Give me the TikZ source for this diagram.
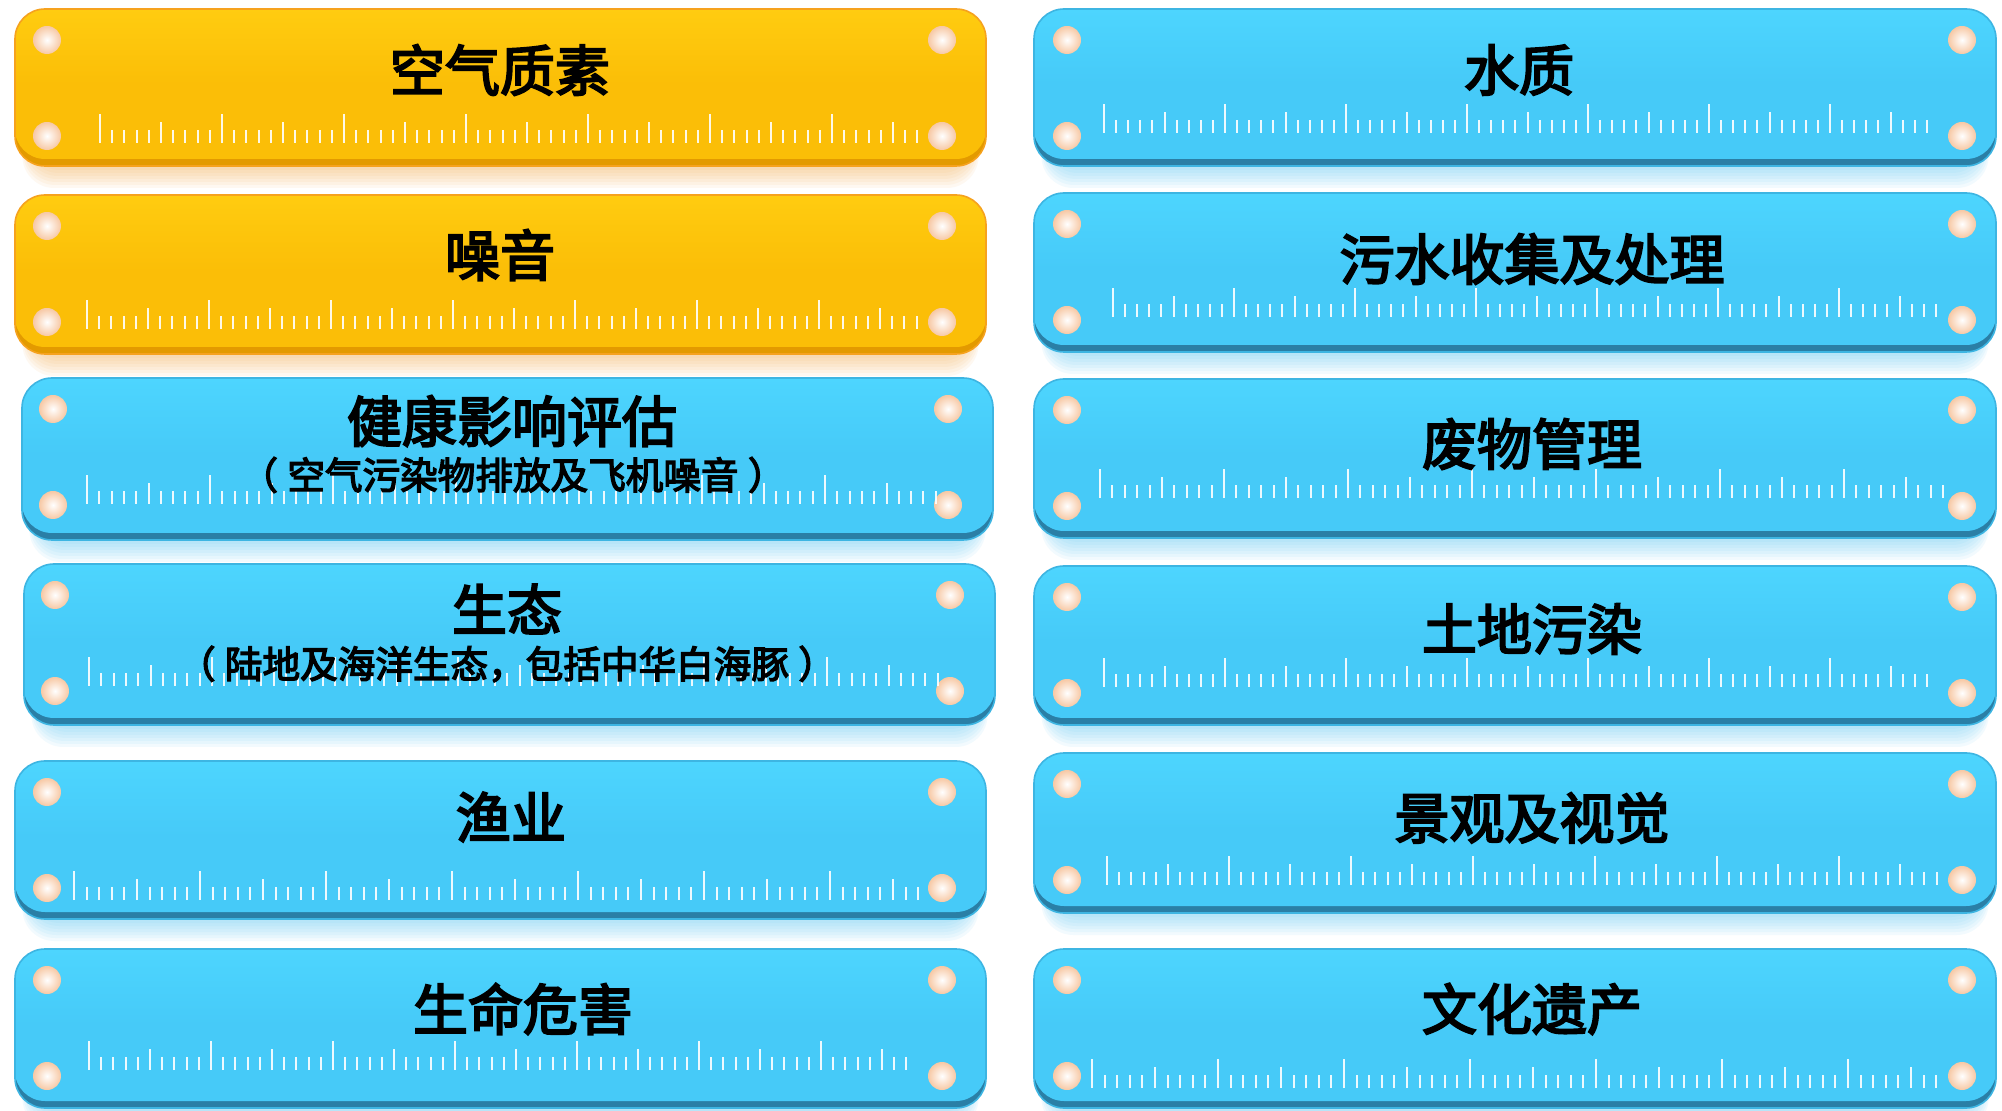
\documentclass[tikz,border=0pt]{standalone}
\usepackage{fontspec}
\newfontfamily\cjk{Noto Sans CJK SC}[FakeBold=3.6]
\definecolor{Ymain}{HTML}{FBBE07}
\definecolor{Ytop}{HTML}{FFCC10}
\definecolor{Ydark}{HTML}{E39A00}
\definecolor{Yglow}{HTML}{F8B868}
\definecolor{Yedge}{HTML}{F6A21E}
\definecolor{Bmain}{HTML}{46CAF8}
\definecolor{Btop}{HTML}{4DD5FE}
\definecolor{Bdark}{HTML}{2A7FA6}
\definecolor{Bglow}{HTML}{6FD0F4}
\definecolor{Bedge}{HTML}{3DB5E2}
\definecolor{peach}{HTML}{F7C8A4}
\tikzset{
  ttl/.style={font=\cjk\fontsize{27.5}{30}\selectfont, text=black, inner sep=0pt},
  subt/.style={font=\cjk\fontsize{18.8}{22}\selectfont, text=black, inner sep=0pt},
  tickline/.style={draw=white, line width=1pt, opacity=0.9},
  holeshape/.style={inner color=white, outer color=peach},
}
% panel: x0,y0,x1,y1,colour prefix
\newcommand\panel[5]{%
  \foreach \k in {22,19,16,13,10,7,4}{%
    \fill[#5glow, opacity=0.09, rounded corners=16pt] (#1+14-\k*0.3, #2+20) rectangle (#3-14+\k*0.3, #4+\k);
  }%
  \fill[#5dark, rounded corners=15pt] (#1,#2) rectangle (#3,#4);
  \shade[top color=#5top, bottom color=#5main, middle color=#5main, rounded corners=15pt] (#1,#2) rectangle (#3,#4-7);
  \draw[#5edge, line width=0.8pt, rounded corners=15pt] (#1,#2) rectangle (#3,#4);
}
% holes: xl, xr, ytop(box)
\newcommand\holes[3]{%
  \foreach \hx in {#1,#2}{%
    \foreach \hy in {#3+31,#3+127}{%
      \shade[holeshape] (\hx,\hy) circle [radius=7pt];
    }%
  }%
}
% ruler: x0, ybase, spacing, n
\newcommand\ruler[4]{%
  \foreach \i in {0,...,#4}{%
    \pgfmathtruncatemacro\ma{mod(\i,10)}%
    \pgfmathtruncatemacro\mb{mod(\i,5)}%
    \ifnum\ma=0 \def\th{29}\else\ifnum\mb=0 \def\th{21}\else\def\th{13}\fi\fi
    \draw[tickline] ({#1+\i*#3},#2) -- ++(0,-\th);
  }%
}
\begin{document}
\begin{tikzpicture}[x=0.5pt,y=-0.5pt]
\useasboundingbox (0,0) rectangle (2002,1111);
\fill[white] (0,0) rectangle (2002,1111);
\begin{scope}
\clip (0,0) rectangle (2002,1111);
% left column
\panel{15}{9}{986}{166}{Y}   \holes{47}{942}{9}    \ruler{100}{143}{12.2}{67}
\panel{15}{195}{986}{354}{Y} \holes{47}{942}{195}  \ruler{87}{329}{12.2}{68}
\panel{22}{378}{993}{540}{B} \holes{53}{948}{378}  \ruler{87}{504}{12.3}{69}
\panel{24}{564}{995}{725}{B} \holes{55}{950}{564}  \ruler{89}{686}{12.3}{69}
\panel{15}{761}{986}{919}{B} \holes{47}{942}{761}  \ruler{74}{900}{12.6}{67}
\panel{15}{949}{986}{1108}{B} \holes{47}{942}{949} \ruler{89}{1070}{12.2}{67}
% right column
\panel{1034}{9}{1996}{166}{B}    \holes{1067}{1962}{9}    \ruler{1104}{133}{12.1}{68}
\panel{1034}{193}{1996}{352}{B}  \holes{1067}{1962}{193}  \ruler{1113}{317}{12.1}{68}
\panel{1034}{379}{1996}{538}{B}  \holes{1067}{1962}{379}  \ruler{1100}{498}{12.4}{68}
\panel{1034}{566}{1996}{725}{B}  \holes{1067}{1962}{566}  \ruler{1104}{687}{12.1}{68}
\panel{1034}{753}{1996}{913}{B}  \holes{1067}{1962}{753}  \ruler{1107}{885}{12.2}{68}
\panel{1034}{949}{1996}{1108}{B} \holes{1067}{1962}{949}  \ruler{1092}{1088}{12.6}{67}
\end{scope}
% texts
\node[ttl] (t1) at (500,70) {空气质素};
\node[ttl] (t2) at (500,255) {噪音};
\node[ttl] (t3) at (512,421) {健康影响评估};
\node[subt] (s3) at (513,475) {（\hspace{0.25em}空气污染物排放及飞机噪音\hspace{0.25em}）};
\node[ttl] (t4) at (507,609) {生态};
\node[subt] (s4) at (507,664) {（\hspace{0.25em}陆地及海洋生态，包括中华白海豚\hspace{0.25em}）};
\node[ttl] (t5) at (511,817) {渔业};
\node[ttl] (t6) at (523,1009) {生命危害};
\node[ttl] (r1) at (1519,70) {水质};
\node[ttl] (r2) at (1532,259) {污水收集及处理};
\node[ttl] (r3) at (1532,444) {废物管理};
\node[ttl] (r4) at (1532,629) {土地污染};
\node[ttl] (r5) at (1532,818) {景观及视觉};
\node[ttl] (r6) at (1532,1009) {文化遗产};
\end{tikzpicture}
\end{document}
